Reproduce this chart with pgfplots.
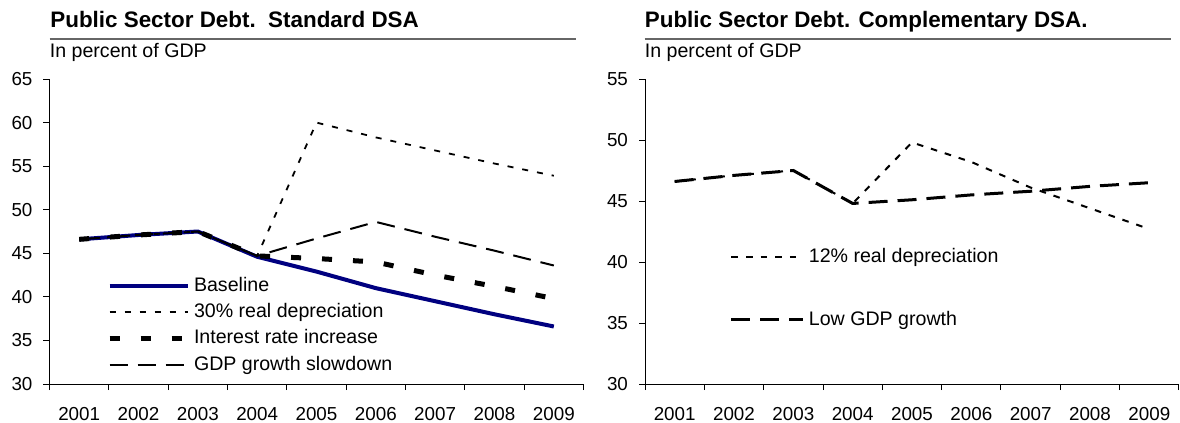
\documentclass[border=0pt]{standalone}
\usepackage{fontspec}
\setmainfont{Liberation Sans}
\usepackage{pgfplots}
\usepackage{pgfplotstable}
\pgfplotsset{compat=1.18}
\definecolor{basenavy}{HTML}{000080}
\definecolor{rulegray}{HTML}{666666}

% years 2001..2009 plotted at 0..8
\pgfplotstableread{
x base dep30 rate gdp
0 46.6 46.6 46.6 46.6
1 47.1 47.1 47.1 47.1
2 47.5 47.5 47.5 47.5
3 44.6 44.7 44.7 44.7
4 42.9 60.0 44.4 46.7
5 41.0 58.3 44.0 48.6
6 39.5 56.8 42.5 46.9
7 38.0 55.3 41.2 45.3
8 36.6 53.9 39.8 43.6
}\stddata

\pgfplotstableread{
x dep12 lowg
0 46.6 46.6
1 47.1 47.1
2 47.5 47.5
3 44.8 44.8
4 49.8 45.1
5 48.2 45.5
6 46.1 45.8
7 44.4 46.2
8 42.7 46.5
}\compdata

\pgfplotsset{
  dsa/.style={
    scale only axis, width=267pt, height=152.5pt,
    xmin=-0.5, xmax=8.5,
    axis x line*=bottom, axis y line*=left,
    axis line style={line width=0.5pt, black, -},
    xtick={0,1,2,3,4,5,6,7,8},
    xticklabels={2001,2002,2003,2004,2005,2006,2007,2008,2009},
    major x tick style={draw=none},
    minor xtick={-0.5,0.5,1.5,2.5,3.5,4.5,5.5,6.5,7.5,8.5},
    tick align=outside,
    major tick length=3pt, minor tick length=3pt,
    tick style={line width=0.5pt, black},
    ticklabel style={font=\fontsize{9.4}{11}\selectfont},
    xticklabel style={yshift=-5pt},
    yticklabel style={xshift=-2pt},
    /pgf/number format/assume math mode=true,
    clip=false,
    legend cell align=left,
    legend style={draw=none, fill=none, inner sep=0pt, outer sep=0pt,
      font=\fontsize{9.8}{11}\selectfont,
      cells={inner xsep=1.5pt, inner ysep=0.5pt, text height=7pt, text depth=2pt}},
  },
}

\begin{document}
\begin{tikzpicture}
\path[use as bounding box] (0pt,0pt) rectangle (590pt,-211.5pt);

% left panel heading
\node[anchor=base west, inner sep=0pt, font=\bfseries\fontsize{11.2}{13}\selectfont]
  at (25pt,-13.75pt) {Public Sector Debt.\ \ Standard DSA};
\draw[rulegray, line width=0.6pt] (24.75pt,-19.5pt) -- (288pt,-19.5pt);
\node[anchor=base west, inner sep=0pt, font=\fontsize{9.8}{11}\selectfont]
  at (24.75pt,-28.5pt) {In percent of GDP};

\begin{axis}[dsa,
  at={(24.75pt,-192pt)}, anchor=south west,
  ymin=30, ymax=65, ytick={30,35,...,65},
  legend image code/.code={\draw[#1] (0pt,0pt) -- (39pt,0pt);},
  legend style={at={(axis description cs:0.1077,0.362)}, anchor=north west, row sep=0.6pt},
]
\addplot[basenavy, line width=2pt, line join=round] table[x=x, y=base] {\stddata};
\addlegendentry{Baseline}
\addplot[black, line width=0.9pt, dash pattern=on 3pt off 4.5pt] table[x=x, y=dep30] {\stddata};
\addlegendentry{30\% real depreciation}
\addplot[black, line width=2.5pt, dash pattern=on 5pt off 10.5pt] table[x=x, y=rate] {\stddata};
\addlegendentry{Interest rate increase}
\addplot[black, line width=1pt, dash pattern=on 9pt off 5pt] table[x=x, y=gdp] {\stddata};
\addlegendentry{GDP growth slowdown}
\end{axis}

% right panel heading
\node[anchor=base west, inner sep=0pt, font=\bfseries\fontsize{11.2}{13}\selectfont]
  at (322.25pt,-13.75pt) {Public Sector Debt. Complementary DSA.};
\draw[rulegray, line width=0.6pt] (322.25pt,-19.5pt) -- (585.5pt,-19.5pt);
\node[anchor=base west, inner sep=0pt, font=\fontsize{9.8}{11}\selectfont]
  at (322.25pt,-28.5pt) {In percent of GDP};

\begin{axis}[dsa,
  at={(322.5pt,-192pt)}, anchor=south west,
  ymin=30, ymax=55, ytick={30,35,...,55},
  legend image code/.code={\draw[#1] (0pt,0pt) -- (36pt,0pt);},
  legend style={at={(axis description cs:0.159,0.458)}, anchor=north west, row sep=19pt},
]
\addplot[black, line width=1pt, dash pattern=on 3.3pt off 4pt] table[x=x, y=dep12] {\compdata};
\addlegendentry{12\% real depreciation}
\addplot[black, line width=1.5pt, dash pattern=on 9.5pt off 5pt] table[x=x, y=lowg] {\compdata};
\addlegendentry{Low GDP growth}
\end{axis}
\end{tikzpicture}
\end{document}
